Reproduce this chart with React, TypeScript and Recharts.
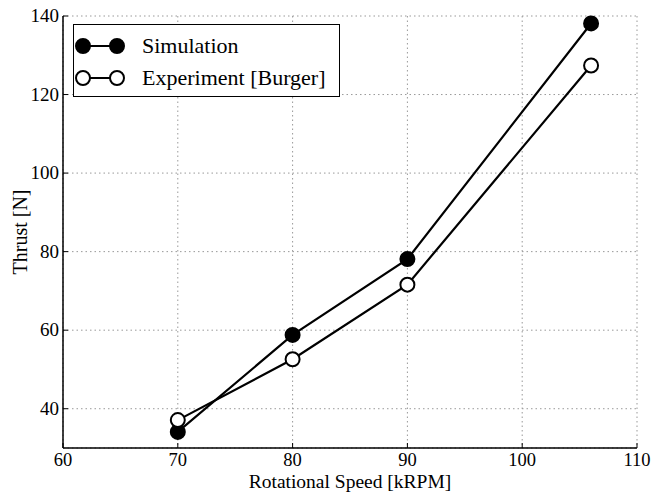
import { LineChart, Line, XAxis, YAxis, CartesianGrid } from 'recharts'

// Rotor speed (kRPM) and thrust (N)
const speed = [70, 80, 90, 106]
const simulation = [34.1, 58.8, 78.1, 138.1]
const experiment = [37.1, 52.6, 71.6, 127.4]

const xTicks = [60, 70, 80, 90, 100, 110]
const yTicks = [40, 60, 80, 100, 120, 140]

const rows = speed.map((s, i) => ({ speed: s, sim: simulation[i], exp: experiment[i] }))

const FONT = '"Liberation Serif", serif'
const W = 652
const H = 492

// ticks point into the plot, labels sit outside
function BottomTick({ x, y, payload }: any) {
  return (
    <g>
      <line x1={x} x2={x} y1={y} y2={y - 5} stroke="#000" strokeWidth={1} />
      <text x={x} y={y + 18} textAnchor="middle" fontFamily={FONT} fontSize={18.5} fill="#000">{payload.value}</text>
    </g>
  )
}
function TopTick({ x, y }: any) {
  return <line x1={x} x2={x} y1={y} y2={y + 5} stroke="#000" strokeWidth={1} />
}
function LeftTick({ x, y, payload }: any) {
  return (
    <g>
      <line x1={x} x2={x + 5} y1={y} y2={y} stroke="#000" strokeWidth={1} />
      <text x={x - 4} y={y + 6} textAnchor="end" fontFamily={FONT} fontSize={19} fill="#000">{payload.value}</text>
    </g>
  )
}
function RightTick({ x, y }: any) {
  return <line x1={x} x2={x - 5} y1={y} y2={y} stroke="#000" strokeWidth={1} />
}

function Dot({ cx, cy, fill }: any) {
  return <circle cx={cx} cy={cy} r={7} fill={fill} stroke="#000" strokeWidth={2} />
}

function LegendBox() {
  const items = [
    { name: 'Simulation', fill: '#000' },
    { name: 'Experiment [Burger]', fill: '#fff' },
  ]
  return (
    <div style={{
      position: 'absolute', left: 73, top: 24, width: 267, height: 73,
      border: '1px solid #000', background: '#fff', boxSizing: 'border-box', padding: '5px 0 0 0',
    }}>
      {items.map((it) => (
        <div key={it.name} style={{ display: 'flex', alignItems: 'center', height: 32 }}>
          <svg width={60} height={20} style={{ flex: 'none' }}>
            <line x1={9} x2={43} y1={10} y2={10} stroke="#000" strokeWidth={2} />
            <circle cx={9} cy={10} r={7} fill={it.fill} stroke="#000" strokeWidth={2} />
            <circle cx={43} cy={10} r={7} fill={it.fill} stroke="#000" strokeWidth={2} />
          </svg>
          <span style={{ fontFamily: FONT, fontSize: 22, marginLeft: 8, color: '#000', whiteSpace: 'nowrap' }}>{it.name}</span>
        </div>
      ))}
    </div>
  )
}

export default function App() {
  return (
    <div style={{ position: 'absolute', left: 0, top: 0, width: W, height: H, background: '#fff' }}>
      <LineChart width={W} height={H} data={rows} margin={{ top: 16, right: 15, bottom: 0, left: 0 }}>
        <CartesianGrid xAxisId="b" yAxisId="l" stroke="#999" strokeDasharray="1.5 3" />
        <XAxis
          xAxisId="b" dataKey="speed" type="number" domain={[60, 110]} ticks={xTicks}
          height={44} tickSize={0} tickMargin={0} axisLine={{ stroke: '#000', strokeWidth: 1.5 }}
          tick={<BottomTick />}
          label={{ value: 'Rotational Speed [kRPM]', position: 'insideBottom', offset: 4, fontFamily: FONT, fontSize: 19.5, fill: '#000' }}
        />
        <XAxis
          xAxisId="t" orientation="top" dataKey="speed" type="number" domain={[60, 110]} ticks={xTicks}
          height={0} tickSize={0} tickMargin={0} axisLine={{ stroke: '#000', strokeWidth: 1.5 }}
          tick={<TopTick />}
        />
        <YAxis
          yAxisId="l" type="number" domain={[30, 140]} ticks={yTicks} width={63}
          tickSize={0} tickMargin={0} axisLine={{ stroke: '#000', strokeWidth: 1.5 }}
          tick={<LeftTick />}
          label={{ value: 'Thrust [N]', angle: -90, position: 'insideLeft', offset: 20, fontFamily: FONT, fontSize: 20, fill: '#000', style: { textAnchor: 'middle' } }}
        />
        <YAxis
          yAxisId="r" orientation="right" type="number" domain={[30, 140]} ticks={yTicks} width={0}
          tickSize={0} tickMargin={0} axisLine={{ stroke: '#000', strokeWidth: 1.5 }}
          tick={<RightTick />}
        />
        <Line
          xAxisId="b" yAxisId="l" dataKey="sim" stroke="#000" strokeWidth={2.2}
          dot={<Dot fill="#000" />} activeDot={false} isAnimationActive={false}
        />
        <Line
          xAxisId="b" yAxisId="l" dataKey="exp" stroke="#000" strokeWidth={2.2}
          dot={<Dot fill="#fff" />} activeDot={false} isAnimationActive={false}
        />
      </LineChart>
      <LegendBox />
    </div>
  )
}
